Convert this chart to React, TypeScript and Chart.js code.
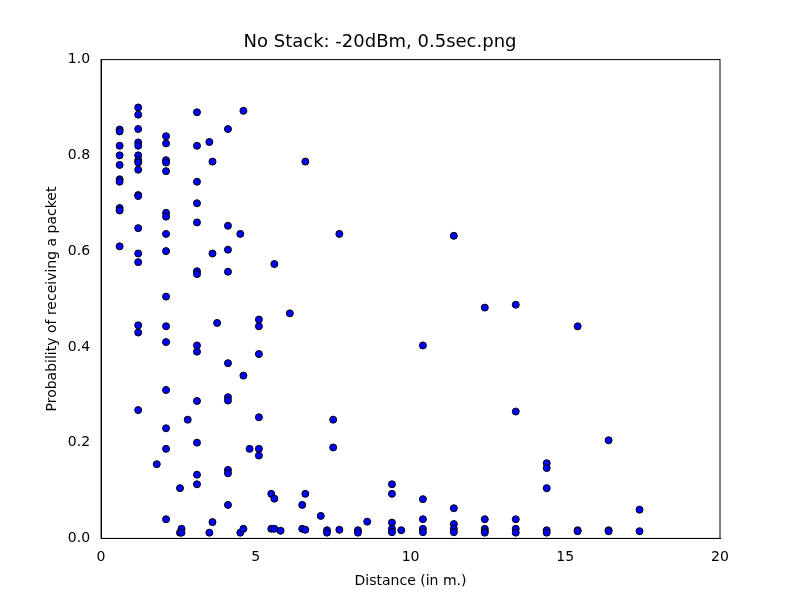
import { useEffect, useRef } from "react";
import Chart from "chart.js/auto";

const distances = [
  0.6, 0.6, 0.6, 0.6, 0.6, 0.6, 0.6, 0.6, 0.6, 0.6,
  1.2, 1.2, 1.2, 1.2, 1.2, 1.2, 1.2, 1.2, 1.2, 1.2, 1.2, 1.2, 1.2, 1.2, 1.2, 1.2, 1.2,
  2.1, 2.1, 2.1, 2.1, 2.1, 2.1, 2.1, 2.1, 2.1, 2.1, 2.1, 2.1, 2.1, 2.1, 2.1, 2.1,
  1.8, 2.55, 2.55, 2.6, 2.6, 2.8,
  3.1, 3.1, 3.1, 3.1, 3.1, 3.1, 3.1, 3.1, 3.1, 3.1, 3.1, 3.1, 3.1,
  3.5, 3.5, 3.6, 3.6, 3.6, 3.75,
  4.1, 4.1, 4.1, 4.1, 4.1, 4.1, 4.1, 4.1, 4.1, 4.1,
  4.5, 4.5, 4.6, 4.6, 4.6, 4.8,
  5.1, 5.1, 5.1, 5.1, 5.1, 5.1,
  5.5, 5.5, 5.6, 5.6, 5.6, 5.8, 6.1,
  6.5, 6.5, 6.6, 6.6, 6.6, 7.1, 7.3, 7.3, 7.5, 7.5, 7.7, 7.7,
  8.3, 8.3, 8.6, 9.4, 9.4, 9.4, 9.4, 9.4, 9.7,
  10.4, 10.4, 10.4, 10.4, 10.4, 11.4, 11.4, 11.4, 11.4, 11.4,
  12.4, 12.4, 12.4, 12.4, 12.4, 13.4, 13.4, 13.4, 13.4, 13.4,
  14.4, 14.4, 14.4, 14.4, 14.4, 15.4, 15.4, 15.4, 16.4, 16.4, 16.4, 17.4, 17.4,
];

const probabilities = [
  0.854, 0.85, 0.82, 0.8, 0.78, 0.75, 0.745, 0.69, 0.685, 0.61,
  0.9, 0.885, 0.855, 0.827, 0.82, 0.8, 0.79, 0.785, 0.77, 0.717, 0.715, 0.648, 0.595, 0.577, 0.445, 0.43, 0.268,
  0.84, 0.825, 0.79, 0.785, 0.767, 0.68, 0.672, 0.636, 0.6, 0.505, 0.443, 0.41, 0.31, 0.23, 0.187, 0.04,
  0.155, 0.105, 0.012, 0.02, 0.012, 0.248,
  0.89, 0.82, 0.745, 0.7, 0.66, 0.558, 0.552, 0.403, 0.39, 0.287, 0.2, 0.133, 0.113,
  0.828, 0.012, 0.787, 0.595, 0.034, 0.45,
  0.855, 0.653, 0.603, 0.557, 0.366, 0.295, 0.288, 0.143, 0.136, 0.07,
  0.636, 0.012, 0.893, 0.34, 0.02, 0.187,
  0.457, 0.443, 0.385, 0.253, 0.187, 0.173,
  0.093, 0.02, 0.573, 0.083, 0.02, 0.016, 0.47,
  0.07, 0.02, 0.787, 0.093, 0.018, 0.047, 0.017, 0.012, 0.248, 0.19, 0.636, 0.018,
  0.017, 0.012, 0.035, 0.113, 0.093, 0.033, 0.02, 0.013, 0.017,
  0.403, 0.082, 0.04, 0.02, 0.013, 0.632, 0.063, 0.03, 0.02, 0.013,
  0.482, 0.04, 0.02, 0.015, 0.012, 0.488, 0.265, 0.04, 0.02, 0.012,
  0.157, 0.147, 0.105, 0.017, 0.012, 0.443, 0.017, 0.015, 0.205, 0.017, 0.015, 0.06, 0.015,
];

const frameBox = {
  id: "frameBox",
  afterDraw(chart: Chart) {
    const { ctx, chartArea: a } = chart;
    ctx.save();
    ctx.strokeStyle = "#000";
    ctx.lineWidth = 1;
    ctx.strokeRect(a.left, a.top, a.right - a.left, a.bottom - a.top);
    ctx.restore();
  },
};

export default function App() {
  const canvasRef = useRef<HTMLCanvasElement>(null);

  useEffect(() => {
    if (!canvasRef.current) return;
    const chart = new Chart(canvasRef.current, {
      type: "scatter",
      data: {
        datasets: [
          {
            data: distances.map((x, i) => ({ x, y: probabilities[i] })),
            backgroundColor: "#0000ff",
            borderColor: "#000",
            borderWidth: 1,
            pointRadius: 3.5,
          },
        ],
      },
      options: {
        animation: false,
        responsive: false,
        layout: { padding: { left: 40, right: 80, top: 4, bottom: 6 } },
        plugins: {
          legend: { display: false },
          tooltip: { enabled: false },
          title: {
            display: true,
            text: "No Stack: -20dBm, 0.5sec.png",
            color: "#000",
            font: { family: "DejaVu Sans", size: 18, weight: "normal" },
            padding: { top: 28, bottom: 6 },
          },
        },
        scales: {
          x: {
            type: "linear",
            min: 0,
            max: 20,
            ticks: { stepSize: 5, color: "#000", font: { family: "DejaVu Sans", size: 14 } },
            grid: { display: false },
            border: { color: "#000" },
            title: {
              display: true,
              text: "Distance (in m.)",
              color: "#000",
              font: { family: "DejaVu Sans", size: 14 },
            },
          },
          y: {
            min: 0,
            max: 1,
            ticks: {
              stepSize: 0.2,
              color: "#000",
              font: { family: "DejaVu Sans", size: 14 },
              callback: (v) => Number(v).toFixed(1),
            },
            grid: { display: false },
            border: { color: "#000" },
            title: {
              display: true,
              text: "Probability of receiving a packet",
              color: "#000",
              font: { family: "DejaVu Sans", size: 14 },
            },
          },
        },
      },
      plugins: [frameBox],
    });
    return () => chart.destroy();
  }, []);

  return (
    <div style={{ width: 800, height: 600, margin: -8, background: "#fff" }}>
      <canvas ref={canvasRef} width={800} height={600} />
    </div>
  );
}
